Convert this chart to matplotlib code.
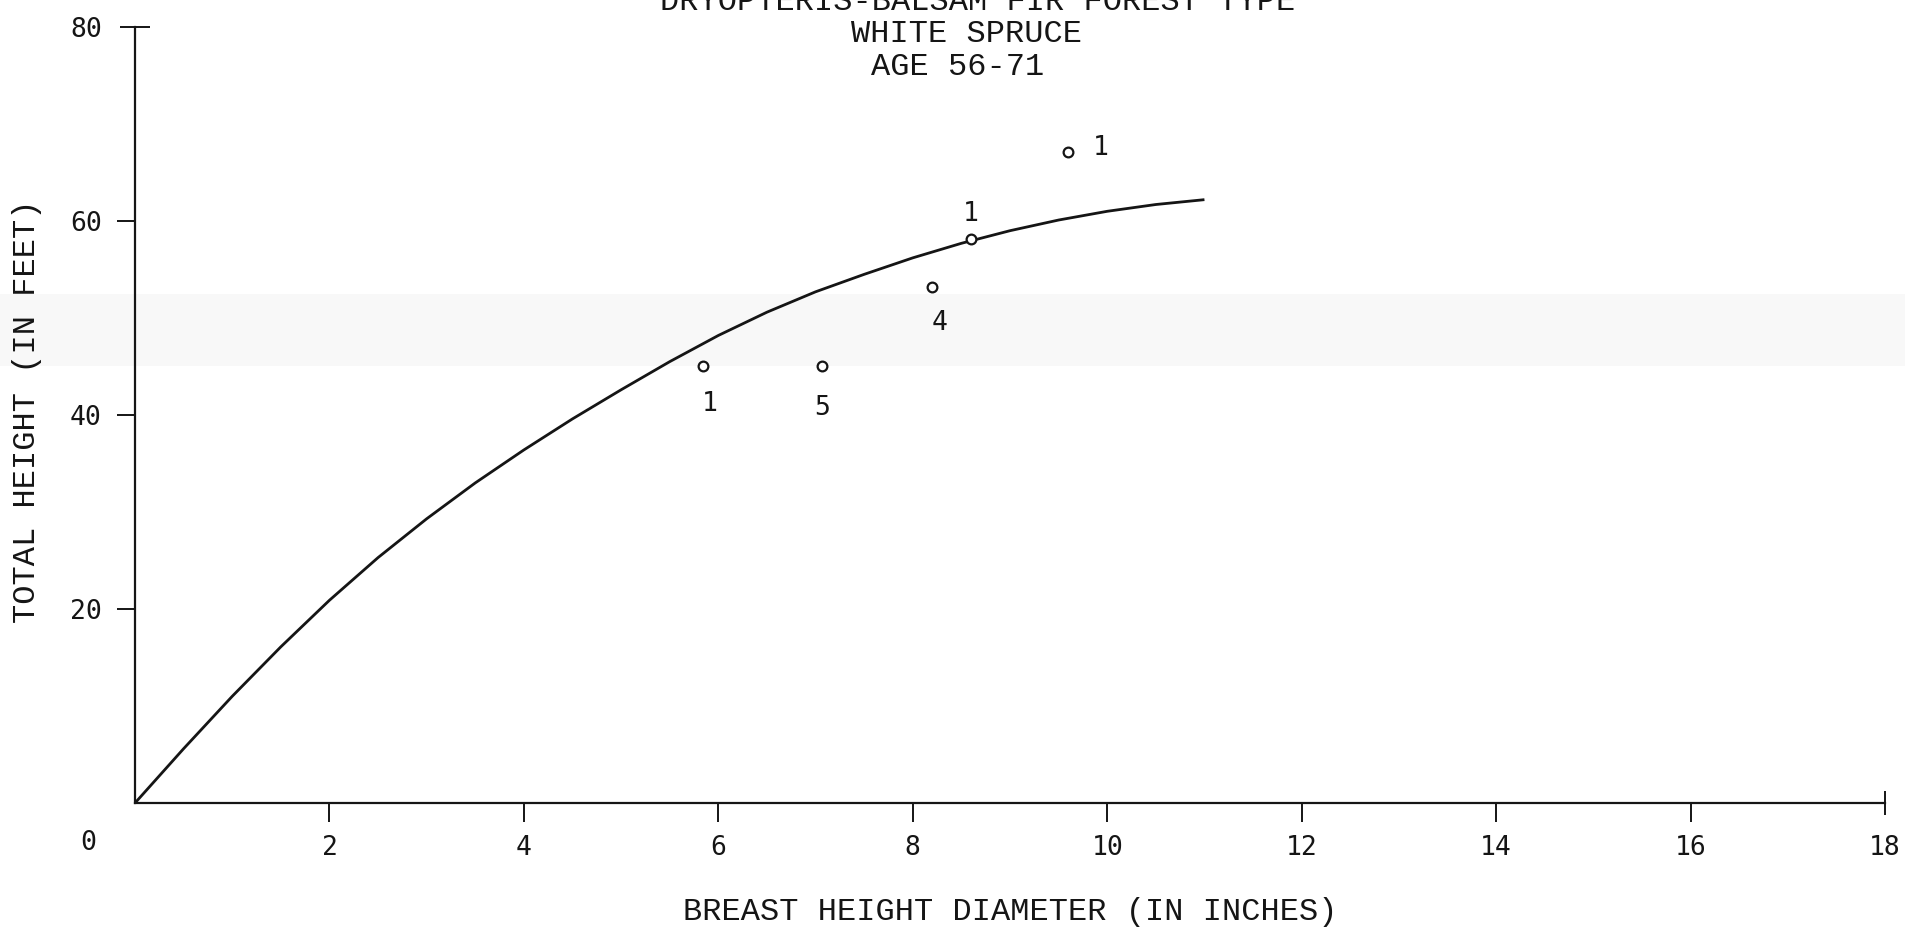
import matplotlib
matplotlib.use("Agg")
import matplotlib.pyplot as plt
from matplotlib.patches import Rectangle
from matplotlib.ticker import FixedLocator, FixedFormatter

# height-diameter curve, read every half inch
curve_dbh = [0, 0.5, 1.0, 1.5, 2.0, 2.5, 3.0, 3.5, 4.0, 4.5, 5.0, 5.5,
             6.0, 6.5, 7.0, 7.5, 8.0, 8.5, 9.0, 9.5, 10.0, 10.5, 11.0]
curve_height = [0, 5.6, 11.0, 16.1, 20.9, 25.3, 29.3, 33.0, 36.4, 39.6, 42.6, 45.5,
                48.2, 50.6, 52.7, 54.5, 56.2, 57.7, 59.0, 60.1, 61.0, 61.7, 62.2]

# plotted sample trees and number of trees per point
tree_dbh = [5.84, 7.07, 8.2, 8.6, 9.6]
tree_height = [45.0, 45.0, 53.2, 58.1, 67.1]
tree_count = ["1", "5", "4", "1", "1"]

x_ticks = [2, 4, 6, 8, 10, 12, 14, 16]
y_ticks = [20, 40, 60]

title_lines = ["DRYOPTERIS-BALSAM FIR FOREST TYPE", "WHITE SPRUCE", "AGE 56-71"]

W, H = 1906, 931
fig = plt.figure(figsize=(W / 100, H / 100), dpi=100)
ax = fig.add_axes([135 / W, 128 / H, 1750 / W, 776 / H])
ax.patch.set_alpha(0)

# faint grey streak left by the copier across the sheet
fig.add_artist(Rectangle((0, 1 - 366 / H), 1, 72 / H, transform=fig.transFigure,
                         color="#f8f8f8", lw=0, zorder=-5))

mono = "Liberation Mono"
tickfont = "DejaVu Sans Mono"
ink = "#151515"

ax.plot(curve_dbh, curve_height, color=ink, lw=2.0, solid_capstyle="butt",
        solid_joinstyle="round")
ax.plot(tree_dbh, tree_height, "o", ms=7, mfc="white", mec=ink, mew=1.6)

# count labels sit below / above / beside each circle (offsets in points)
count_offsets = [(5, -27), (0, -30), (5, -26), (0, 18), (23, 3)]
for d, h, n, off in zip(tree_dbh, tree_height, tree_count, count_offsets):
    ax.annotate(n, (d, h), xytext=off, textcoords="offset points",
                ha="center", va="center", fontsize=19, family=tickfont, color=ink)

ax.set_xlim(0, 18)
ax.set_ylim(0, 80)
for s in ["top", "right"]:
    ax.spines[s].set_visible(False)
for s in ["left", "bottom"]:
    ax.spines[s].set_linewidth(1.6)
    ax.spines[s].set_color(ink)

ax.xaxis.set_major_locator(FixedLocator(x_ticks))
ax.xaxis.set_major_formatter(FixedFormatter([str(v) for v in x_ticks]))
ax.xaxis.set_minor_locator(FixedLocator([18]))
ax.xaxis.set_minor_formatter(FixedFormatter(["18"]))
ax.yaxis.set_major_locator(FixedLocator(y_ticks))
ax.yaxis.set_major_formatter(FixedFormatter([str(v) for v in y_ticks]))
ax.yaxis.set_minor_locator(FixedLocator([80]))
ax.yaxis.set_minor_formatter(FixedFormatter(["80"]))

ax.tick_params(axis="x", which="major", direction="out", length=14, width=1.4,
               pad=9, labelsize=19, colors=ink)
ax.tick_params(axis="x", which="minor", direction="inout", length=17, width=1.4,
               pad=14.5, labelsize=19, colors=ink)
ax.tick_params(axis="y", which="major", direction="out", length=13, width=1.4,
               pad=11, labelsize=19, colors=ink)
ax.tick_params(axis="y", which="minor", direction="inout", length=22, width=1.4,
               pad=13, labelsize=19, colors=ink)
for lab in ax.get_xticklabels(which="both") + ax.get_yticklabels(which="both"):
    lab.set_family(tickfont)

# shared origin label
ax.annotate("0", (0, 0), xytext=(-34, -29), textcoords="offset points",
            ha="center", va="center", fontsize=19, family=tickfont, color=ink)

ax.set_xlabel("BREAST HEIGHT DIAMETER (IN INCHES)", fontsize=23, family=mono,
              color=ink, va="center")
ax.xaxis.set_label_coords(0.5, -0.14)
ax.set_ylabel("TOTAL HEIGHT (IN FEET)", fontsize=23, family=mono, color=ink,
              va="center")
ax.yaxis.set_label_coords(-0.062, 0.505)

title_x = [978, 967, 958]
title_y = [2, 34, 67]
for txt, tx, ty in zip(title_lines, title_x, title_y):
    fig.text(tx / W, 1 - ty / H, txt, ha="center", va="center",
             fontsize=23, family=mono, color=ink)

fig.savefig("out.png", dpi=100, facecolor="white")
